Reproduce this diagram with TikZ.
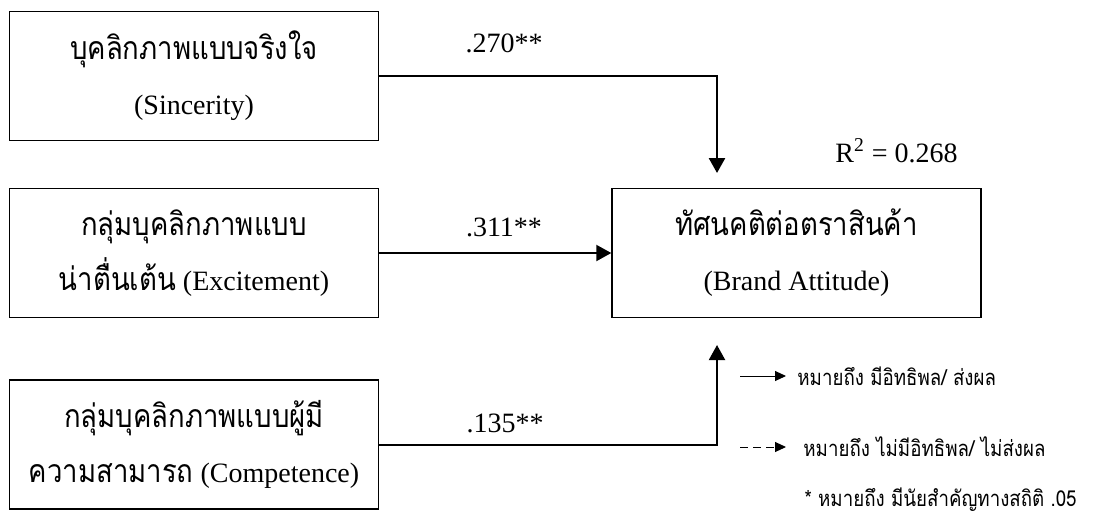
\documentclass[tikz,border=0pt]{standalone}
\usepackage{fontspec}
\setmainfont{Liberation Serif}
\newfontfamily\thai[Script=Thai]{Loma}
\usetikzlibrary{arrows.meta}
\newcommand{\thbox}[1]{\scalebox{0.86}[1]{\thai\fontsize{16}{20}\selectfont #1}}
\newcommand{\thleg}[1]{\scalebox{0.85}[1]{#1}}
\begin{document}
\begin{tikzpicture}[x=0.5pt,y=-0.5pt,
  box/.style={draw, line width=0.7pt, minimum width=184.5pt, minimum height=64.5pt,
    inner sep=0pt, align=center, font=\fontsize{14}{27.5}\selectfont},
  conn/.style={line width=1pt, -{Triangle[length=7.5pt,width=8pt]}},
  lbl/.style={font=\fontsize{14}{16}\selectfont, inner sep=0pt},
  leg/.style={line width=0.5pt, -{Triangle[length=5.5pt,width=5pt]}},
  legtxt/.style={anchor=west, inner sep=0pt, font=\thai\fontsize{11}{12}\selectfont}]
\useasboundingbox (0,0) rectangle (1111,520);

\node[box] (s) at (194,76) {\thbox{บุคลิกภาพแบบจริงใจ}\\(Sincerity)};
\node[box] (e) at (194,253) {\thbox{กลุ่มบุคลิกภาพแบบ}\\\thbox{น่าตื่นเต้น} (Excitement)};
\node[box] (c) at (194,444.5) {\thbox{กลุ่มบุคลิกภาพแบบผู้มี}\\\thbox{ความสามารถ} (Competence)};
\node[box] (t) at (796.5,253) {\thbox{ทัศนคติต่อตราสินค้า}\\(Brand Attitude)};

\coordinate (a1) at (717,173);
\coordinate (a3) at (717,345);
\draw[conn, line width=1.3pt] (s.east) -| (a1);
\draw[conn] (e.east) -- (t.west);
\draw[conn] (c.east) -| (a3);

\node[lbl] (l1) at (504,43) {.270**};
\node[lbl] (l2) at (504,227) {.311**};
\node[lbl] (l3) at (505,423) {.135**};
\node[lbl, anchor=base west] (r2) at (835,162) {R\textsuperscript{2} = 0.268};

\coordinate (ls1) at (740,376);
\coordinate (le1) at (786,376);
\coordinate (ls2) at (740,447);
\coordinate (le2) at (786,447);
\draw[leg] (ls1) -- (le1);
\draw[leg, dash pattern=on 4pt off 2.5pt] (ls2) -- (le2);
\node[legtxt] (lt1) at (797,376) {\thleg{หมายถึง มีอิทธิพล/ ส่งผล}};
\node[legtxt] (lt2) at (803,447) {\thleg{หมายถึง ไม่มีอิทธิพล/ ไม่ส่งผล}};
\node[legtxt, anchor=east] (fn) at (1077,500) {\thleg{* หมายถึง มีนัยสำคัญทางสถิติ .05}};
\end{tikzpicture}
\end{document}
